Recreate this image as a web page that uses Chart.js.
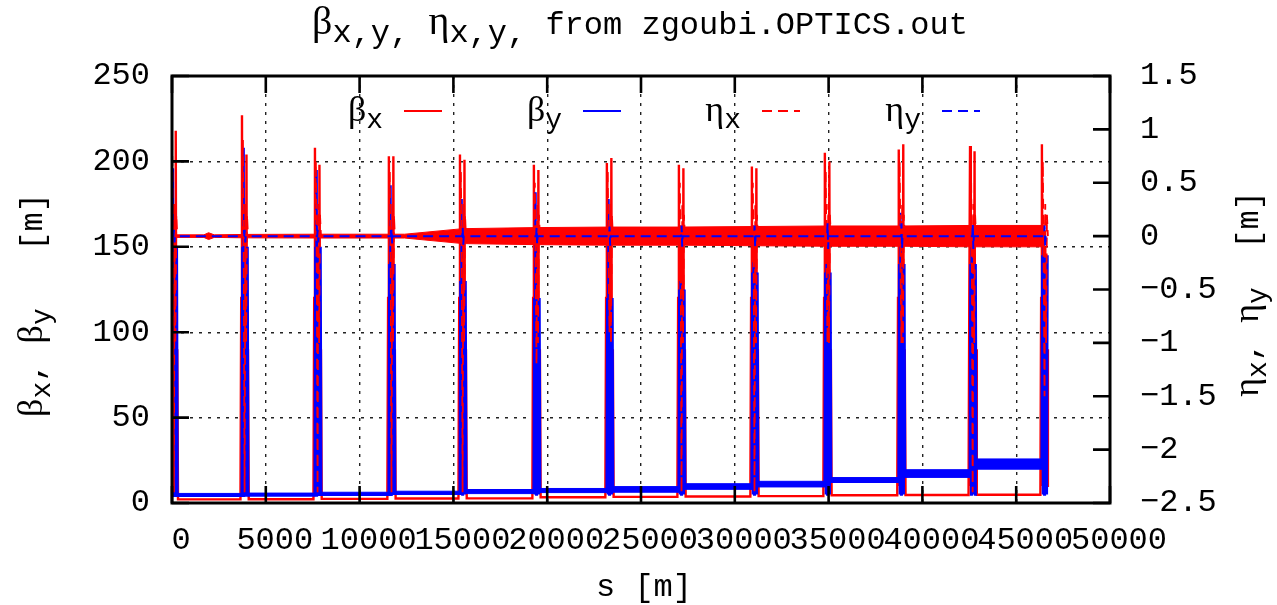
<!DOCTYPE html>
<html>
<head>
<meta charset="utf-8">
<title>zgoubi optics</title>
<script src="https://cdn.jsdelivr.net/npm/chart.js@4.4.1/dist/chart.umd.min.js"></script>
<style>
  html, body { margin: 0; padding: 0; background: #fff; }
  #wrap { width: 1277px; height: 605px; }
</style>
</head>
<body>
<div id="wrap"><canvas id="optics" width="1277" height="605"></canvas></div>
<script>
// Twiss functions along the ring, read from zgoubi.OPTICS.out
// s positions of the insertions (m)
const insertS = [120, 3890, 7780, 11720, 15510, 19450, 23340, 27180, 31070, 34960, 38900, 42700, 46530];

// beta_x: level of each arc (cell k sits between insertion k and k+1) and the two horns in each insertion
const bxArc = [2.1, 2.2, 2.4, 2.6, 2.7, 3.4, 3.6, 3.8, 4.0, 4.5, 4.7, 4.8];
const bxHornA = [225, 227, 208, 203, 204, 198, 199, 198, 197, 205, 207, 209, 210];
const bxHornB = [218, 204, 198, 203, 201, 195, 202, 196, 196, 200, 210, 206, 120];
const bxSpikeDs = [-240, -200, -160, -120, -80, -40, 0, 40, 80, 120, 160, 200];
const bxSpikeMid = [120, 10, 160, 15, 150, 10, 10, 90];

// beta_y: lower / upper edge of the oscillation in each arc, peak and dense part in the insertions
const byLo = [3.8, 4.0, 4.4, 5.0, 5.5, 6.1, 6.3, 8.0, 9.4, 12.0, 15.0, 19.8];
const byHi = [5.6, 5.8, 6.3, 6.9, 7.9, 8.5, 9.6, 11.3, 12.7, 14.9, 19.5, 25.8];
const byPeak = [196, 208, 195, 186, 178, 182, 178, 130, 141, 140, 170, 150, 150];
const byDense = [150, 150, 150, 140, 130, 120, 120, 125, 135, 135, 140, 140, 145];
const bySpikeDs = [-175, -140, -105, -70, -35, 0, 35, 70, 105, 140, 175];
const byFloor = 5;

// eta_x: envelope of the oscillation about zero, and the excursions in the insertions
const etaxBandS  = [0, 1700, 1950, 2250, 3890, 7780, 11720, 12400, 15510, 19450, 23340, 27180, 31070, 34960, 38900, 42700, 46530];
const etaxBandUp = [0.012, 0.012, 0.032, 0.012, 0.016, 0.018, 0.018, 0.018, 0.07, 0.08, 0.085, 0.085, 0.09, 0.095, 0.095, 0.1, 0.1];
const etaxBandDn = [-0.012, -0.012, -0.032, -0.012, -0.016, -0.018, -0.018, -0.018, -0.07, -0.08, -0.085, -0.085, -0.09, -0.095, -0.095, -0.1, -0.1];
const etaxHi = [0.9, 0.9, 0.7, 0.6, 0.6, 0.5, 0.6, 0.5, 0.5, 0.6, 0.7, 0.7, 0.7];
const etaxLo = [-2.4, -2.4, -2.4, -2.4, -2.4, -1.2, -0.9, -2.4, -2.4, -1.0, -1.0, -2.4, -1.5];
const etaxSpikeDs = [-160, -110, -60, -20, 20, 60, 110, 160];
const etaxSpikeMid = [-0.4, 0.3, -1.0, 0.2];

// eta_y: zero everywhere apart from a small kick in each insertion
const etayKick = [0.06, 0.06, 0.06, 0.07, 0.08, 0.08, 0.09, 0.1, 0.1, 0.12, 0.12, 0.12, 0.1];

// axes
const sTicks = { min: 0, max: 50000, step: 5000 };
const betaTicks = { min: 0, max: 250, step: 50 };
const etaTicks = { min: -2.5, max: 1.5, step: 0.5 };

const RED = '#ff0000';
const BLUE = '#0000ff';
const MONO = '"Liberation Mono", "DejaVu Sans Mono", monospace';
const GREEK = '"Liberation Serif", "DejaVu Serif", serif';

function pushProfile(pts, c, ds, vals) {
  ds.forEach((d, j) => {
    if (vals[j] !== null && vals[j] !== undefined) pts.push({ x: c + d, y: vals[j] });
  });
}

function buildBetaX() {
  const pts = [];
  const m = bxSpikeMid;
  insertS.forEach((c, i) => {
    const before = i === 0 ? null : bxArc[i - 1];
    const after = i < bxArc.length ? bxArc[i] : null;
    pushProfile(pts, c, bxSpikeDs,
      [before, m[0], bxHornA[i], m[1], m[2], m[3], m[4], m[5], bxHornB[i], m[6], m[7], after]);
  });
  return pts;
}

function buildBetaYSpikes() {
  const pts = [];
  const f = byFloor;
  insertS.forEach((c, i) => {
    const before = i === 0 ? null : byLo[i - 1];
    const after = i < byLo.length ? byLo[i] : null;
    const d = byDense[i];
    pushProfile(pts, c, bySpikeDs, [before, d, f, byPeak[i], f, d, f, d, f, d, after]);
    pts.push({ x: NaN, y: null });
  });
  return pts;
}

function buildArcEdge(levels) {
  const pts = [];
  levels.forEach((v, k) => {
    pts.push({ x: k === 0 ? 0 : insertS[k], y: v });
    pts.push({ x: insertS[k + 1], y: v });
  });
  return pts;
}

function buildEtaXBand(edge) {
  return etaxBandS.map((s, i) => ({ x: s, y: edge[i] }));
}

function buildEtaXSpikes() {
  const pts = [];
  const m = etaxSpikeMid;
  insertS.forEach((c, i) => {
    pushProfile(pts, c, etaxSpikeDs, [0, etaxHi[i], m[0], etaxLo[i], m[1], m[2], m[3], 0]);
    pts.push({ x: NaN, y: null });
  });
  return pts;
}

function buildEtaY() {
  const pts = [{ x: 0, y: 0 }];
  insertS.forEach((c, i) => {
    pts.push({ x: c - 40, y: 0 }, { x: c - 15, y: etayKick[i] },
             { x: c + 15, y: -etayKick[i] }, { x: c + 40, y: 0 });
  });
  return pts;
}

const lineBase = { pointRadius: 0, tension: 0, fill: false, spanGaps: false };

const datasets = [
  { ...lineBase, label: 'βx', data: buildBetaX(), yAxisID: 'y', borderColor: RED, borderWidth: 2.4, order: 4 },
  { ...lineBase, label: 'βy lo', data: buildArcEdge(byLo), yAxisID: 'y', borderColor: BLUE, borderWidth: 1, order: 3 },
  { ...lineBase, label: 'βy hi', data: buildArcEdge(byHi), yAxisID: 'y', borderColor: BLUE, borderWidth: 1,
    backgroundColor: BLUE, fill: '-1', order: 3 },
  { ...lineBase, label: 'βy', data: buildBetaYSpikes(), yAxisID: 'y', borderColor: BLUE, borderWidth: 2.4, order: 3 },
  { ...lineBase, label: 'ηx lo', data: buildEtaXBand(etaxBandDn), yAxisID: 'y2', borderColor: RED, borderWidth: 1, order: 2 },
  { ...lineBase, label: 'ηx hi', data: buildEtaXBand(etaxBandUp), yAxisID: 'y2', borderColor: RED, borderWidth: 1,
    backgroundColor: RED, fill: '-1', order: 2 },
  { ...lineBase, label: 'ηx', data: buildEtaXSpikes(), yAxisID: 'y2', borderColor: RED, borderWidth: 1.8,
    borderDash: [10, 6], order: 2 },
  { ...lineBase, label: 'ηy', data: buildEtaY(), yAxisID: 'y2', borderColor: BLUE, borderWidth: 2,
    borderDash: [10, 6], order: 1 }
];

// draws text made of pieces with their own font and vertical shift (subscripts)
function drawRich(ctx, parts, x, y, align) {
  let w = 0;
  parts.forEach(p => { ctx.font = p[1]; w += ctx.measureText(p[0]).width; });
  let cx = align === 'center' ? x - w / 2 : align === 'right' ? x - w : x;
  ctx.textAlign = 'left';
  ctx.textBaseline = 'alphabetic';
  parts.forEach(p => {
    ctx.font = p[1];
    ctx.fillText(p[0], cx, y + (p[2] || 0));
    cx += ctx.measureText(p[0]).width;
  });
}

const frameAndLabels = {
  id: 'frameAndLabels',
  afterDatasetsDraw(chart) {
    const { ctx, chartArea: a, scales } = chart;
    const tl = 17;
    ctx.save();
    ctx.strokeStyle = '#000';
    ctx.lineWidth = 2.6;
    ctx.beginPath();
    scales.x.ticks.forEach(t => {
      const px = scales.x.getPixelForValue(t.value);
      ctx.moveTo(px, a.bottom); ctx.lineTo(px, a.bottom - tl);
      ctx.moveTo(px, a.top); ctx.lineTo(px, a.top + tl);
    });
    scales.y.ticks.forEach(t => {
      const py = scales.y.getPixelForValue(t.value);
      ctx.moveTo(a.left, py); ctx.lineTo(a.left + tl, py);
    });
    scales.y2.ticks.forEach(t => {
      const py = scales.y2.getPixelForValue(t.value);
      ctx.moveTo(a.right, py); ctx.lineTo(a.right - tl, py);
    });
    ctx.stroke();
    ctx.lineWidth = 3;
    ctx.strokeRect(a.left, a.top, a.right - a.left, a.bottom - a.top);

    // key
    const gk = '36px ' + GREEK, sk = '28px ' + MONO;
    const keys = [
      { g: 'β', s: 'x', color: RED, dash: [], x0: 404 },
      { g: 'β', s: 'y', color: BLUE, dash: [], x0: 583 },
      { g: 'η', s: 'x', color: RED, dash: [10, 6], x0: 762 },
      { g: 'η', s: 'y', color: BLUE, dash: [10, 6], x0: 942 }
    ];
    ctx.fillStyle = '#000';
    keys.forEach(k => {
      drawRich(ctx, [[k.g, gk], [k.s, sk, 7]], k.x0 - 21, 121, 'right');
      ctx.beginPath();
      ctx.setLineDash(k.dash);
      ctx.strokeStyle = k.color;
      ctx.lineWidth = 2.2;
      ctx.moveTo(k.x0, 111); ctx.lineTo(k.x0 + 38, 111);
      ctx.stroke();
    });
    ctx.setLineDash([]);
    ctx.restore();
  },
  afterDraw(chart) {
    const ctx = chart.ctx;
    const mono = '32px ' + MONO;
    const greekT = '40px ' + GREEK;
    const greek = '36px ' + GREEK;
    const sub = '28px ' + MONO;
    ctx.save();
    ctx.fillStyle = '#000';
    drawRich(ctx, [['β', greekT], ['x,y,', mono, 8], [' ', mono], ['η', greekT], ['x,y,', mono, 8],
                   [' from zgoubi.OPTICS.out', mono]], 640, 34, 'center');
    drawRich(ctx, [['s [m]', mono]], 644, 596, 'center');

    ctx.save();
    ctx.translate(42, 305);
    ctx.rotate(-Math.PI / 2);
    drawRich(ctx, [['β', greek], ['x', sub, 8], [', ', mono], ['β', greek], ['y', sub, 8], ['   [m]', mono]], 0, 0, 'center');
    ctx.restore();

    ctx.save();
    ctx.translate(1258, 294);
    ctx.rotate(-Math.PI / 2);
    drawRich(ctx, [['η', greek], ['x', sub, 8], [', ', mono], ['η', greek], ['y', sub, 8], ['  [m]', mono]], 0, 0, 'center');
    ctx.restore();
    ctx.restore();
  }
};

const tickFont = { family: MONO, size: 32 };
const gridStyle = { color: '#222', lineWidth: 1.4, drawTicks: false };

new Chart(document.getElementById('optics'), {
  type: 'line',
  data: { datasets },
  options: {
    responsive: false,
    devicePixelRatio: 1,
    animation: false,
    layout: { padding: { top: 76, left: 0, right: 0, bottom: 0 } },
    plugins: { legend: { display: false }, title: { display: false }, tooltip: { enabled: false } },
    scales: {
      x: {
        type: 'linear', position: 'bottom', min: sTicks.min, max: sTicks.max,
        afterFit: s => { s.height = 102; },
        ticks: { stepSize: sTicks.step, autoSkip: false, maxRotation: 0, minRotation: 0,
                 padding: 18, labelOffset: 9, font: tickFont, color: '#000',
                 callback: v => String(v) },
        grid: gridStyle,
        border: { display: false, dash: [3, 6] }
      },
      y: {
        type: 'linear', position: 'left', min: betaTicks.min, max: betaTicks.max,
        afterFit: s => { s.width = 172; },
        ticks: { stepSize: betaTicks.step, padding: 22, font: tickFont, color: '#000',
                 callback: v => String(v) },
        grid: gridStyle,
        border: { display: false, dash: [3, 6] }
      },
      y2: {
        type: 'linear', position: 'right', min: etaTicks.min, max: etaTicks.max,
        afterFit: s => { s.width = 167; },
        ticks: { stepSize: etaTicks.step, padding: 30, font: tickFont, color: '#000',
                 callback: v => {
                   const r = Math.round(v * 10) / 10;
                   return r < 0 ? '−' + String(-r) : String(r);
                 } },
        grid: { display: false, drawTicks: false },
        border: { display: false }
      }
    }
  },
  plugins: [frameAndLabels]
});
</script>
</body>
</html>
